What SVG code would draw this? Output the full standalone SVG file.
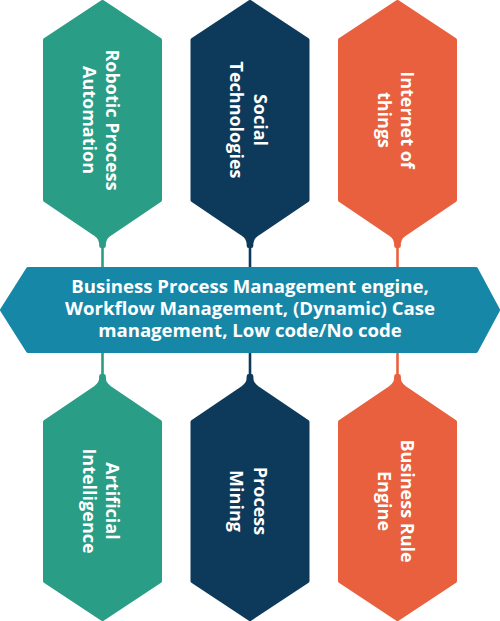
<svg xmlns="http://www.w3.org/2000/svg" width="500" height="621" viewBox="0 0 500 621">
  <defs>
    <style>
      .green { fill: #2a9d86; stroke: #2a9d86; }
      .navy { fill: #0d3a5b; stroke: #0d3a5b; }
      .orange { fill: #e9603e; stroke: #e9603e; }
      .shape { stroke-width: 4; stroke-linejoin: round; }
      .banner { fill: #1787a8; stroke: #1787a8; stroke-width: 4; stroke-linejoin: round; }
      .lbl { font-family: "Open Sans", "Noto Sans", "DejaVu Sans", sans-serif; font-weight: 700; font-size: 18px; fill: #ffffff; text-anchor: middle; }
      .btxt { font-family: "Open Sans", "Noto Sans", "DejaVu Sans", sans-serif; font-weight: 700; font-size: 18.6px; fill: #ffffff; text-anchor: middle; }
      .stem { stroke-width: 2.6; fill: none; }
      .s-green { stroke: #2a9d86; }
      .s-navy { stroke: #0d3a5b; }
      .s-orange { stroke: #e9603e; }
    </style>
    <path id="hexTop" d="M0,2 L57.5,40 L57.5,200 L8,233.5 C2.5,237.5 1.3,240 1.3,246 L-1.3,246 C-1.3,240 -2.5,237.5 -8,233.5 L-57.5,200 L-57.5,40 Z"/>
    <path id="hexBot" d="M0,619 L57.5,581 L57.5,422 L8,388.5 C2.5,384.5 1.3,382 1.3,376 L-1.3,376 C-1.3,382 -2.5,384.5 -8,388.5 L-57.5,422 L-57.5,581 Z"/>
  </defs>
  <rect width="500" height="621" fill="#ffffff"/>

  <g id="connectors">
    <line class="stem s-green" x1="102.5" y1="240" x2="102.5" y2="270"/>
    <line class="stem s-navy" x1="250" y1="240" x2="250" y2="270"/>
    <line class="stem s-orange" x1="397.5" y1="240" x2="397.5" y2="270"/>
    <line class="stem s-green" x1="102.5" y1="350" x2="102.5" y2="382"/>
    <line class="stem s-navy" x1="250" y1="350" x2="250" y2="382"/>
    <line class="stem s-orange" x1="397.5" y1="350" x2="397.5" y2="382"/>
  </g>

  <g id="node-rpa">
    <use href="#hexTop" class="green shape" transform="translate(102.5,0)"/>
    <text class="lbl" transform="translate(102.5,120) rotate(90)"><tspan x="0" y="-3.5">Robotic Process</tspan><tspan x="0" y="20">Automation</tspan></text>
  </g>
  <g id="node-social">
    <use href="#hexTop" class="navy shape" transform="translate(250,0)"/>
    <text class="lbl" transform="translate(250,120) rotate(90)"><tspan x="0" y="-3.5">Social</tspan><tspan x="0" y="20">Technologies</tspan></text>
  </g>
  <g id="node-iot">
    <use href="#hexTop" class="orange shape" transform="translate(397.5,0)"/>
    <text class="lbl" transform="translate(397.5,120) rotate(90)"><tspan x="0" y="-3.5">Internet of</tspan><tspan x="0" y="20">things</tspan></text>
  </g>

  <g id="node-bpm">
    <path class="banner" d="M2,310 L28,269 L476,269 L498,310 L476,351 L28,351 Z"/>
    <text class="btxt"><tspan x="250" y="293">Business Process Management engine,</tspan><tspan x="250" y="315">Workflow Management, (Dynamic) Case</tspan><tspan x="250" y="337">management, Low code/No code</tspan></text>
  </g>

  <g id="node-ai">
    <use href="#hexBot" class="green shape" transform="translate(102.5,0)"/>
    <text class="lbl" transform="translate(102.5,501) rotate(90)"><tspan x="0" y="-3.5">Artificial</tspan><tspan x="0" y="20">Intelligence</tspan></text>
  </g>
  <g id="node-mining">
    <use href="#hexBot" class="navy shape" transform="translate(250,0)"/>
    <text class="lbl" transform="translate(250,501) rotate(90)"><tspan x="0" y="-3.5">Process</tspan><tspan x="0" y="20">Mining</tspan></text>
  </g>
  <g id="node-bre">
    <use href="#hexBot" class="orange shape" transform="translate(397.5,0)"/>
    <text class="lbl" transform="translate(397.5,501) rotate(90)"><tspan x="0" y="-3.5">Business Rule</tspan><tspan x="0" y="20">Engine</tspan></text>
  </g>
</svg>
